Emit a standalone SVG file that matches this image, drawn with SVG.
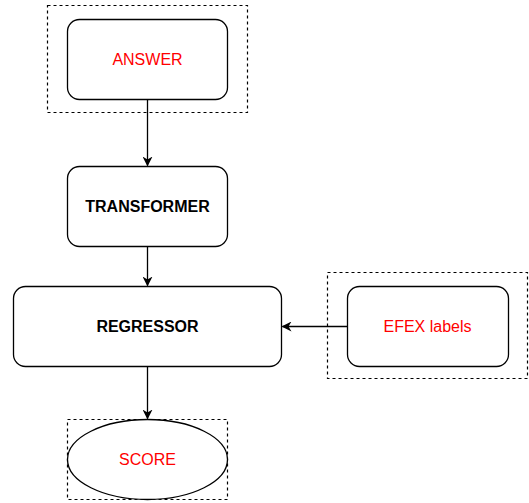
<svg xmlns="http://www.w3.org/2000/svg" width="529" height="503" viewBox="0 0 529 503">
<style>
.box{fill:#fff;stroke:#000;stroke-width:1.3}
.dash{fill:none;stroke:#000;stroke-width:1.2;stroke-dasharray:3 3}
.red{font-family:"Liberation Sans",Arial,sans-serif;font-size:16px;fill:#ff0000;text-anchor:middle;dominant-baseline:central}
.bold{font-family:"Liberation Sans",Arial,sans-serif;font-size:16px;font-weight:bold;fill:#000;text-anchor:middle;dominant-baseline:central}
.edge{fill:none;stroke:#000;stroke-width:1.3}
</style>
<defs>
<marker id="arr" viewBox="0 0 10 10" refX="9" refY="5" markerWidth="10" markerHeight="10" markerUnits="userSpaceOnUse" orient="auto">
<path d="M0,0 L10,5 L0,10 L3,5 Z" fill="#000"/>
</marker>
</defs>
<rect width="529" height="503" fill="#fff"/>
<g id="answer">
<rect class="dash" x="47.5" y="5.5" width="200" height="107"/>
<rect class="box" x="67.5" y="19.5" width="160" height="80" rx="12"/>
<text class="red" x="147.5" y="59.5">ANSWER</text>
</g>
<g id="transformer">
<rect class="box" x="67.5" y="166.5" width="160" height="80" rx="12"/>
<text class="bold" x="147.5" y="206.5">TRANSFORMER</text>
</g>
<g id="regressor">
<rect class="box" x="13.5" y="286.5" width="268" height="80" rx="12"/>
<text class="bold" x="147.5" y="326.5">REGRESSOR</text>
</g>
<g id="efex">
<rect class="dash" x="327.5" y="272.5" width="200" height="106"/>
<rect class="box" x="347.5" y="286.5" width="161" height="80" rx="12"/>
<text class="red" x="427.5" y="326.5">EFEX labels</text>
</g>
<g id="score">
<rect class="dash" x="67.5" y="419.5" width="160" height="80"/>
<ellipse class="box" cx="147.5" cy="459.5" rx="80" ry="40"/>
<text class="red" x="147.5" y="459.5">SCORE</text>
</g>
<g id="connectors">
<path class="edge" d="M147.5,99.5 L147.5,165.5" marker-end="url(#arr)"/>
<path class="edge" d="M147.5,246.5 L147.5,285.5" marker-end="url(#arr)"/>
<path class="edge" d="M347.5,326.5 L282.5,326.5" marker-end="url(#arr)"/>
<path class="edge" d="M147.5,366.5 L147.5,418.5" marker-end="url(#arr)"/>
</g>
</svg>
